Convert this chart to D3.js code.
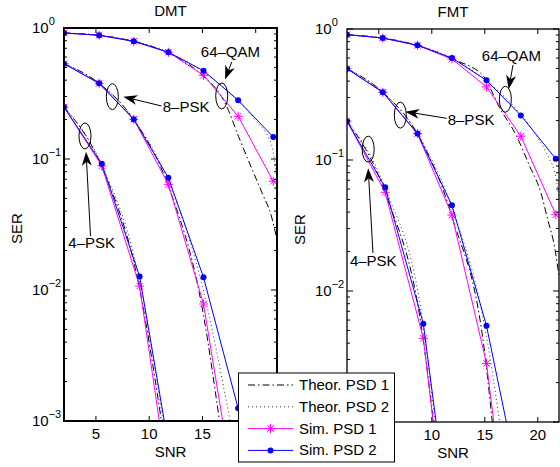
<!DOCTYPE html>
<html>
<head>
<meta charset="utf-8">
<script src="https://cdn.jsdelivr.net/npm/d3@7"></script>
<style>
    body { margin: 0; background: #fff; }
    svg { display: block; font-family: "Liberation Sans", Arial, Helvetica, sans-serif; }
</style>
</head>
<body>
<div id="chart"></div>
<script>
// ---- data ----
const snrDomain = [2, 22];
const serDomain = [1e-3, 1];
const xTicks = [5, 10, 15, 20];
const yTicks = [1, 1e-1, 1e-2, 1e-3];
const yTickExp = ["0", "\u22121", "\u22122", "\u22123"];

// DMT – simulated points (last 4-PSK / 8-PSK point lies below the axis)
const dmtSnrPsk4 = [2, 5.55, 9.1, 12.65];
const dmtSnr = [2, 5.3, 8.55, 11.8, 15.1, 18.35, 21.65];
const dmtSim1Psk4 = [0.249, 0.0885, 0.0107, 0.000113];
const dmtSim2Psk4 = [0.249, 0.092, 0.0127, 0.00026];
const dmtSim1Psk8 = [0.534, 0.378, 0.201, 0.0641, 0.00782, 0.00019];
const dmtSim2Psk8 = [0.534, 0.378, 0.201, 0.072, 0.0125, 0.00125, 0.00012];
const dmtSim1Qam = [0.916, 0.88, 0.792, 0.653, 0.435, 0.212, 0.0676];
const dmtSim2Qam = [0.916, 0.88, 0.792, 0.653, 0.472, 0.281, 0.147];

// DMT – theoretical curves
const dmtTh1Psk4Snr = [2, 5.55, 9.1, 11.15];
const dmtTh1Psk4 = [0.249, 0.087, 0.0102, 0.001];
const dmtTh2Psk4Snr = [2, 5.55, 9.1, 11.3];
const dmtTh2Psk4 = [0.249, 0.09, 0.0118, 0.001];
const dmtTh1Psk8Snr = [2, 5.3, 8.55, 11.8, 15.1, 16.6];
const dmtTh1Psk8 = [0.534, 0.378, 0.2, 0.062, 0.0064, 0.001];
const dmtTh2Psk8Snr = [2, 5.3, 8.55, 11.8, 15.1, 17.6];
const dmtTh2Psk8 = [0.534, 0.378, 0.2, 0.068, 0.0098, 0.001];
const dmtTh1QamSnr = [2, 5.3, 8.55, 11.8, 14.5, 17.3, 18.4, 19.3, 20.6, 21.5, 22];
const dmtTh1Qam = [0.916, 0.88, 0.79, 0.645, 0.47, 0.25, 0.148, 0.098, 0.055, 0.036, 0.024];
const dmtTh2QamSnr = [2, 5.3, 8.55, 11.8, 15.1, 17.75, 19.9, 21.5, 22];
const dmtTh2Qam = [0.916, 0.88, 0.792, 0.653, 0.46, 0.31, 0.2, 0.127, 0.07];

// FMT – simulated points
const fmtSnrPsk4 = [2, 5.6, 9.2, 12.8];
const fmtSnr = [2, 5.37, 8.65, 11.9, 15.16, 18.4, 21.7];
const fmtSim1Psk4 = [0.198, 0.0567, 0.00435, 0.000015];
const fmtSim2Psk4 = [0.198, 0.0619, 0.00563, 0.000032];
const fmtSim1Psk8 = [0.498, 0.329, 0.159, 0.038, 0.0028, 0.000022];
const fmtSim2Psk8 = [0.498, 0.329, 0.159, 0.0451, 0.00543, 0.00029];
const fmtSim1Qam = [0.905, 0.853, 0.751, 0.59, 0.361, 0.152, 0.0382];
const fmtSim2Qam = [0.905, 0.853, 0.751, 0.601, 0.406, 0.219, 0.102];

// FMT – theoretical curves
const fmtTh1Psk4Snr = [2, 5.6, 9.2, 10.15];
const fmtTh1Psk4 = [0.198, 0.056, 0.0042, 0.001];
const fmtTh2Psk4Snr = [2, 5.6, 9.2, 10.3];
const fmtTh2Psk4 = [0.198, 0.061, 0.0054, 0.001];
const fmtTh1Psk8Snr = [2, 5.37, 8.65, 11.9, 15.16, 15.7];
const fmtTh1Psk8 = [0.498, 0.329, 0.158, 0.037, 0.0026, 0.001];
const fmtTh2Psk8Snr = [2, 5.37, 8.65, 11.9, 15.16, 16.4];
const fmtTh2Psk8 = [0.498, 0.329, 0.159, 0.043, 0.0045, 0.001];
const fmtTh1QamSnr = [2, 5.37, 8.65, 11.9, 14.84, 16.4, 18, 19.2, 20.3, 20.94, 21.57, 22];
const fmtTh1Qam = [0.905, 0.853, 0.75, 0.59, 0.44, 0.25, 0.152, 0.091, 0.056, 0.035, 0.022, 0.013];
const fmtTh2QamSnr = [2, 5.37, 8.65, 11.9, 15.16, 17.66, 19.85, 21.0, 21.73, 22];
const fmtTh2Qam = [0.905, 0.853, 0.751, 0.6, 0.4, 0.26, 0.154, 0.105, 0.072, 0.05];

const legendLabels = ["Theor. PSD 1", "Theor. PSD 2", "Sim. PSD 1", "Sim. PSD 2"];

// ---- page ----
const svgWidth = 560;
const svgHeight = 467;
const fontSize = 15;
const legendBox = { x: 238.5, y: 373, w: 156, h: 89 };

const svg = d3.select("#chart")
    .append("svg")
    .attr("width", svgWidth)
    .attr("height", svgHeight);

const styles = {
    th1: { stroke: "#000", dash: "7,3,1.5,3" },
    th2: { stroke: "#333", dash: "1,3" },
    sim1: { stroke: "#ff00ff", marker: "star" },
    sim2: { stroke: "#0000ff", marker: "dot" }
};

// tick labels that sit under the legend box are covered in the original
function underLegend(x, y) {
    return x > legendBox.x - 6 && x < legendBox.x + legendBox.w + 6 &&
        y > legendBox.y - 4 && y < legendBox.y + legendBox.h + 8;
}

function starPath(s) {
    const d = s * 0.72;
    return `M${-s},0H${s}M0,${-s}V${s}M${-d},${-d}L${d},${d}M${-d},${d}L${d},${-d}`;
}

function drawMarker(sel, kind, color) {
    if (kind === "star") {
        sel.append("path").attr("d", starPath(4.5))
            .attr("stroke", color).attr("stroke-width", 1).attr("fill", "none");
    } else if (kind === "dot") {
        sel.append("circle").attr("r", 3).attr("fill", color);
    }
}

function drawArrow(g, x1, y1, x2, y2) {
    const ang = Math.atan2(y2 - y1, x2 - x1);
    const len = 14, half = 5, back = 10;
    const bx = x2 - len * Math.cos(ang), by = y2 - len * Math.sin(ang);
    const nx = x2 - back * Math.cos(ang), ny = y2 - back * Math.sin(ang);
    const px = -Math.sin(ang), py = Math.cos(ang);
    g.append("line")
        .attr("x1", x1).attr("y1", y1).attr("x2", nx).attr("y2", ny)
        .attr("stroke", "#000").attr("stroke-width", 1);
    g.append("path")
        .attr("d", `M${x2},${y2}L${bx + px * half},${by + py * half}L${nx},${ny}L${bx - px * half},${by - py * half}Z`)
        .attr("fill", "#000");
}

function renderPanel(p) {
    const xScale = d3.scaleLinear().domain(snrDomain).range([p.left, p.right]);
    const yScale = d3.scaleLog().domain(serDomain).range([p.bottom, p.top]);
    const g = svg.append("g");

    g.append("clipPath").attr("id", p.id + "-clip")
        .append("rect")
        .attr("x", p.left).attr("y", p.top)
        .attr("width", p.right - p.left).attr("height", p.bottom - p.top);

    const plot = g.append("g").attr("clip-path", `url(#${p.id}-clip)`);
    const line = d3.line().x(d => xScale(d[0])).y(d => yScale(d[1]));
    const smooth = d3.line().curve(d3.curveMonotoneX).x(d => xScale(d[0])).y(d => yScale(d[1]));

    p.theory.forEach(s => {
        const st = styles[s.style];
        plot.append("path")
            .datum(d3.zip(s.snr, s.ser))
            .attr("d", smooth)
            .attr("fill", "none")
            .attr("stroke", st.stroke)
            .attr("stroke-width", 1)
            .attr("stroke-dasharray", st.dash);
    });

    p.sim.forEach(s => {
        const st = styles[s.style];
        const pts = d3.zip(s.snr, s.ser);
        plot.append("path")
            .datum(pts)
            .attr("d", line)
            .attr("fill", "none")
            .attr("stroke", st.stroke)
            .attr("stroke-width", 1);
        plot.selectAll(null)
            .data(pts)
            .enter()
            .append("g")
            .attr("transform", d => `translate(${xScale(d[0])},${yScale(d[1])})`)
            .each(function () { drawMarker(d3.select(this), st.marker, st.stroke); });
    });

    // box and ticks
    const axisColor = "#000";
    g.append("rect")
        .attr("x", p.left).attr("y", p.top)
        .attr("width", p.right - p.left).attr("height", p.bottom - p.top)
        .attr("fill", "none").attr("stroke", axisColor).attr("stroke-width", p.boxWidth);

    xTicks.forEach(t => {
        const x = xScale(t);
        g.append("line").attr("x1", x).attr("x2", x).attr("y1", p.bottom).attr("y2", p.bottom - 5).attr("stroke", axisColor);
        g.append("line").attr("x1", x).attr("x2", x).attr("y1", p.top).attr("y2", p.top + 5).attr("stroke", axisColor);
        if (underLegend(x, p.bottom + 13)) return;
        g.append("text")
            .attr("x", x).attr("y", p.bottom + 18)
            .attr("text-anchor", "middle")
            .attr("font-size", fontSize)
            .text(t);
    });

    yScale.ticks().forEach(t => {
        const y = yScale(t);
        const major = yTicks.some(v => Math.abs(Math.log10(v) - Math.log10(t)) < 1e-6);
        const len = major ? 6 : 3;
        g.append("line").attr("x1", p.left).attr("x2", p.left + len).attr("y1", y).attr("y2", y).attr("stroke", axisColor);
        g.append("line").attr("x1", p.right).attr("x2", p.right - len).attr("y1", y).attr("y2", y).attr("stroke", axisColor);
    });

    yTicks.forEach((t, i) => {
        if (underLegend(p.left - 16, yScale(t))) return;
        const label = g.append("text")
            .attr("x", p.left - 32)
            .attr("y", yScale(t) + 5)
            .attr("font-size", fontSize);
        label.append("tspan").text("10");
        label.append("tspan")
            .attr("font-size", 11)
            .attr("dy", -8)
            .text(yTickExp[i]);
    });

    // titles
    g.append("text")
        .attr("x", (p.left + p.right) / 2).attr("y", p.top - 12)
        .attr("text-anchor", "middle").attr("font-size", fontSize)
        .text(p.title);
    g.append("text")
        .attr("x", (p.left + p.right) / 2).attr("y", p.bottom + 36)
        .attr("text-anchor", "middle").attr("font-size", fontSize)
        .text("SNR");
    g.append("text")
        .attr("transform", `translate(${p.left - 42},${(p.top + p.bottom) / 2 + 4}) rotate(-90)`)
        .attr("text-anchor", "middle").attr("font-size", fontSize)
        .text("SER");

    // annotations
    const ann = g.append("g");
    p.ellipses.forEach(e => {
        ann.append("ellipse")
            .attr("cx", xScale(e[0])).attr("cy", yScale(e[1]))
            .attr("rx", 6).attr("ry", 13)
            .attr("fill", "none").attr("stroke", "#000").attr("stroke-width", 1);
    });
    p.arrows.forEach(a => {
        drawArrow(ann, xScale(a[0]), yScale(a[1]), xScale(a[2]), yScale(a[3]));
    });
    p.labels.forEach(l => {
        ann.append("text")
            .attr("x", xScale(l.snr)).attr("y", yScale(l.ser))
            .attr("text-anchor", l.anchor)
            .attr("font-size", fontSize)
            .text(l.text);
    });
}

renderPanel({
    id: "dmt", title: "DMT",
    left: 64, right: 277, top: 28, bottom: 421, boxWidth: 2,
    theory: [
        { style: "th1", snr: dmtTh1Psk4Snr, ser: dmtTh1Psk4 },
        { style: "th1", snr: dmtTh1Psk8Snr, ser: dmtTh1Psk8 },
        { style: "th1", snr: dmtTh1QamSnr, ser: dmtTh1Qam },
        { style: "th2", snr: dmtTh2Psk4Snr, ser: dmtTh2Psk4 },
        { style: "th2", snr: dmtTh2Psk8Snr, ser: dmtTh2Psk8 },
        { style: "th2", snr: dmtTh2QamSnr, ser: dmtTh2Qam }
    ],
    sim: [
        { style: "sim1", snr: dmtSnrPsk4, ser: dmtSim1Psk4 },
        { style: "sim1", snr: dmtSnr, ser: dmtSim1Psk8 },
        { style: "sim1", snr: dmtSnr, ser: dmtSim1Qam },
        { style: "sim2", snr: dmtSnrPsk4, ser: dmtSim2Psk4 },
        { style: "sim2", snr: dmtSnr, ser: dmtSim2Psk8 },
        { style: "sim2", snr: dmtSnr, ser: dmtSim2Qam }
    ],
    ellipses: [[16.81, 0.303], [6.54, 0.299], [3.97, 0.15]],
    arrows: [[17.75, 0.55, 17.12, 0.404], [11.15, 0.254, 7.57, 0.299], [4.49, 0.0258, 4.07, 0.1137]],
    labels: [
        { text: "64\u2013QAM", snr: 17.63, ser: 0.604, anchor: "middle" },
        { text: "8\u2013PSK", snr: 11.27, ser: 0.2297, anchor: "start" },
        { text: "4\u2013PSK", snr: 4.6, ser: 0.0208, anchor: "middle" }
    ]
});

renderPanel({
    id: "fmt", title: "FMT",
    left: 347, right: 559, top: 29, bottom: 422, boxWidth: 1.3,
    theory: [
        { style: "th1", snr: fmtTh1Psk4Snr, ser: fmtTh1Psk4 },
        { style: "th1", snr: fmtTh1Psk8Snr, ser: fmtTh1Psk8 },
        { style: "th1", snr: fmtTh1QamSnr, ser: fmtTh1Qam },
        { style: "th2", snr: fmtTh2Psk4Snr, ser: fmtTh2Psk4 },
        { style: "th2", snr: fmtTh2Psk8Snr, ser: fmtTh2Psk8 },
        { style: "th2", snr: fmtTh2QamSnr, ser: fmtTh2Qam }
    ],
    sim: [
        { style: "sim1", snr: fmtSnrPsk4, ser: fmtSim1Psk4 },
        { style: "sim1", snr: fmtSnr, ser: fmtSim1Psk8 },
        { style: "sim1", snr: fmtSnr, ser: fmtSim1Qam },
        { style: "sim2", snr: fmtSnrPsk4, ser: fmtSim2Psk4 },
        { style: "sim2", snr: fmtSnr, ser: fmtSim2Psk8 },
        { style: "sim2", snr: fmtSnr, ser: fmtSim2Qam }
    ],
    ellipses: [[16.94, 0.291], [7.03, 0.22], [4.0, 0.121]],
    arrows: [[17.66, 0.531, 17.25, 0.347], [11.41, 0.208, 7.5, 0.234], [4.45, 0.0195, 4.0, 0.0865]],
    labels: [
        { text: "64\u2013QAM", snr: 17.51, ser: 0.573, anchor: "middle" },
        { text: "8\u2013PSK", snr: 11.5, ser: 0.185, anchor: "start" },
        { text: "4\u2013PSK", snr: 4.48, ser: 0.0155, anchor: "middle" }
    ]
});

// ---- legend ----
const legend = svg.append("g");
legend.append("rect")
    .attr("x", legendBox.x).attr("y", legendBox.y)
    .attr("width", legendBox.w).attr("height", legendBox.h)
    .attr("fill", "#fff").attr("stroke", "#000").attr("stroke-width", 1);

const legendKeys = ["th1", "th2", "sim1", "sim2"];
legendKeys.forEach((k, i) => {
    const y = 385 + i * 21.8;
    const st = styles[k];
    legend.append("line")
        .attr("x1", 248).attr("x2", 293).attr("y1", y).attr("y2", y)
        .attr("stroke", st.stroke).attr("stroke-width", 1)
        .attr("stroke-dasharray", st.dash || null);
    if (st.marker) {
        const m = legend.append("g").attr("transform", `translate(270.5,${y})`);
        drawMarker(m, st.marker, st.stroke);
    }
    legend.append("text")
        .attr("x", 299).attr("y", y + 5)
        .attr("font-size", fontSize)
        .text(legendLabels[i]);
});
</script>
</body>
</html>
